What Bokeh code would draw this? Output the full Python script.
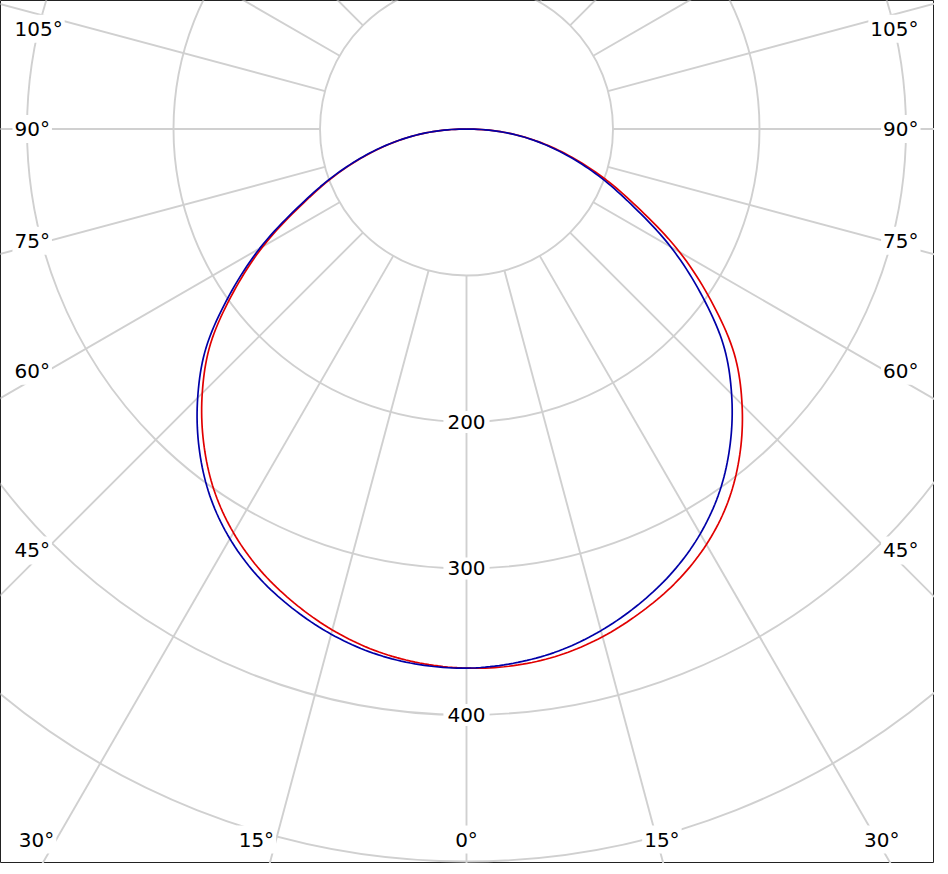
import numpy as np
from bokeh.plotting import figure
from bokeh.models import Range1d, Label
from bokeh.embed import file_html
from bokeh.resources import INLINE

# ---- data (candela values) ----
angles = [0, 5, 10, 15, 20, 25, 30, 35, 40, 45, 50, 55, 60, 65, 70, 75, 80, 85, 90]
blue_left = [368, 367.0, 363.5, 357.0, 348.0, 337.0, 323.0, 305.5, 284.0, 259.5,
             232.0, 197.5, 163.0, 127.5, 99.0, 73.0, 49.0, 25.5, 0]
red_left = [368, 365.9, 361.4, 354.0, 344.2, 332.6, 318.2, 300.6, 279.2, 255.1,
            228.1, 194.3, 160.6, 125.8, 97.9, 72.4, 48.7, 25.4, 0]
blue_right = [368, 366.1, 361.8, 354.5, 344.9, 333.4, 319.1, 301.5, 280.1, 255.9,
              228.8, 194.9, 161.0, 126.1, 98.1, 72.5, 48.8, 25.4, 0]
red_right = [368, 367.7, 364.8, 358.8, 350.4, 340.4, 327.5, 311.0, 290.2, 266.0,
             238.5, 203.4, 167.9, 131.1, 101.4, 74.5, 49.7, 25.8, 0]

ring_values = [100, 200, 300, 400, 500]
ring_labels = [200, 300, 400]
spoke_angles = list(range(0, 360, 15))
degree_labels = [0, 15, 30, 45, 60, 75, 90, 105]

GRID = "#d0d0d0"
FONT = "DejaVu Sans"
FSIZE = "20px"
S = 1.465  # pixels per candela unit (for label nudges)

p = figure(width=934, height=863, output_backend="svg", toolbar_location=None,
           x_range=Range1d(-318.09, 319.45), y_range=Range1d(-501.37, 87.71),
           min_border=0, match_aspect=False)
p.axis.visible = False
p.grid.visible = False
p.background_fill_color = "white"
p.border_fill_color = "white"
p.outline_line_color = "#222222"
p.outline_line_width = 1

# rings
p.circle(x=[0] * len(ring_values), y=[0] * len(ring_values), radius=ring_values,
         fill_color=None, line_color=GRID, line_width=1.9)

# spokes (from the innermost ring outwards)
r0, r1 = ring_values[0], 1200
phi = np.radians(spoke_angles)
p.segment(x0=r0 * np.sin(phi), y0=-r0 * np.cos(phi), x1=r1 * np.sin(phi), y1=-r1 * np.cos(phi),
          line_color=GRID, line_width=1.9)


def smooth_curve(left, right, step=0.5):
    """Catmull-Rom (cubic Hermite) drawing of r(theta) through the read points."""
    a = np.array(angles, float)
    th = np.concatenate([-a[::-1], a[1:]])
    r = np.concatenate([np.array(left, float)[::-1], np.array(right, float)[1:]])
    n = len(th)
    m = np.zeros(n)
    m[1:-1] = (r[2:] - r[:-2]) / (th[2:] - th[:-2])
    m[0] = (r[1] - r[0]) / (th[1] - th[0])
    m[-1] = (r[-1] - r[-2]) / (th[-1] - th[-2])
    tt = np.arange(th[0], th[-1] + 1e-9, step)
    idx = np.clip(np.searchsorted(th, tt, side="right") - 1, 0, n - 2)
    h = th[idx + 1] - th[idx]
    u = (tt - th[idx]) / h
    h00 = 2 * u**3 - 3 * u**2 + 1
    h10 = u**3 - 2 * u**2 + u
    h01 = -2 * u**3 + 3 * u**2
    h11 = u**3 - u**2
    rr = h00 * r[idx] + h10 * h * m[idx] + h01 * r[idx + 1] + h11 * h * m[idx + 1]
    rr = np.maximum(rr, 0)
    t = np.radians(tt)
    return rr * np.sin(t), -rr * np.cos(t)


xr, yr = smooth_curve(red_left, red_right)
xb, yb = smooth_curve(blue_left, blue_right)
p.line(xr, yr, line_color="#e10000", line_width=1.7)
p.line(xb, yb, line_color="#0000a8", line_width=1.7)

# ring value labels
for v in ring_labels:
    p.add_layout(Label(x=0, y=-v, text=str(v), text_align="center", text_baseline="middle",
                       text_font=FONT, text_font_size=FSIZE, text_color="black",
                       background_fill_color="white", padding=4))

# degree labels around the frame
XB = 296.2     # ray box, horizontal
YB = -485.0    # ray box, bottom
XT = 309.9     # text edge for side labels
for a in degree_labels:
    for side in (-1, 1):
        if a == 0 and side == 1:
            continue
        t = np.radians(a)
        if a <= 30:
            x = side * (-YB) * np.tan(t) + (5 / S if side > 0 else 0)
            y = YB
            baseline = "middle"
            align = "center" if (a == 0 or side > 0) else "right"
        else:
            x = side * XT
            align = "left" if side < 0 else "right"
            if a == 90:
                y, baseline = 0.0, "middle"
            elif a < 90:
                y = -XB / np.tan(t) + 17.7 * np.cos(t) / S
                baseline = "middle"
            else:
                y = -XB / np.tan(t) - 2 / S
                baseline = "top"
        p.add_layout(Label(x=x, y=y, text=f"{a}°", text_align=align, text_baseline=baseline,
                           text_font=FONT, text_font_size=FSIZE, text_color="black",
                           background_fill_color="white", padding=2))

open("out.html", "w").write(file_html(p, INLINE))
